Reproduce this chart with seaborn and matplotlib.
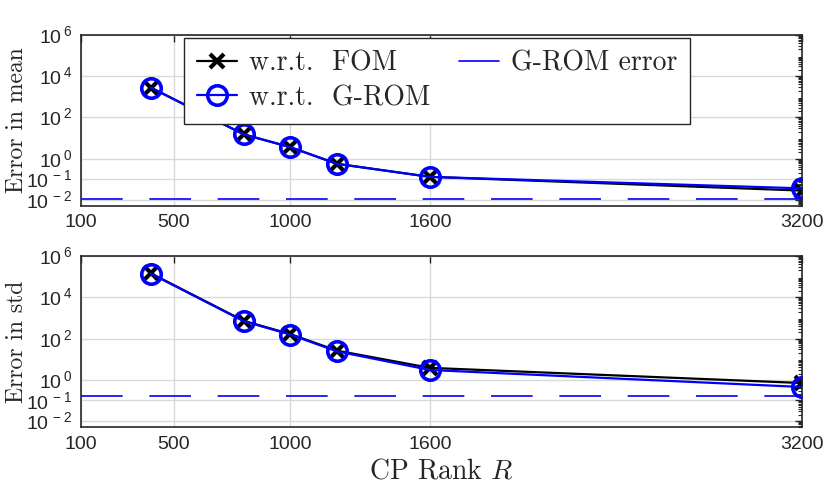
import numpy as np
import pandas as pd
import seaborn as sns
import matplotlib
matplotlib.use("Agg")
import matplotlib.pyplot as plt
from matplotlib.lines import Line2D
from matplotlib.ticker import LogLocator

# data
ranks = [400, 800, 1000, 1200, 1600, 3200]
mean_fom = [2.8e3, 15, 3.6, 0.56, 0.13, 0.028]
mean_grom = [2.8e3, 15, 3.6, 0.56, 0.13, 0.036]
std_fom = [1.45e5, 720, 165, 26, 3.8, 0.70]
std_grom = [1.40e5, 690, 155, 24, 3.0, 0.45]
grom_err_mean = 1.05e-2
grom_err_std = 0.17

xticks = [100, 500, 1000, 1600, 3200]
yticks = [1e-2, 1e-1, 1e0, 1e2, 1e4, 1e6]
ytick_labels = [r'$10^{\,-2}$', r'$10^{\,-1}$', r'$10^{\,0}$', r'$10^{\,2}$', r'$10^{\,4}$', r'$10^{\,6}$']

sns.set_style("white")
plt.rcParams['font.family'] = ['Liberation Sans', 'DejaVu Sans']
plt.rcParams['mathtext.fontset'] = 'custom'
plt.rcParams['mathtext.rm'] = 'Liberation Sans'
plt.rcParams['mathtext.it'] = 'cmmi10'
plt.rcParams['axes.unicode_minus'] = False

serif = 'cmr10'

fig = plt.figure(figsize=(8.3, 4.97), dpi=100)
ax1 = fig.add_axes([0.0976, 0.5855, 0.8687, 0.344])
ax2 = fig.add_axes([0.0976, 0.1402, 0.8687, 0.3447])

panels = [
    (ax1, mean_fom, mean_grom, grom_err_mean, 'Error in mean'),
    (ax2, std_fom, std_grom, grom_err_std, 'Error in std'),
]

for ax, fom, grom, err, ylab in panels:
    df = pd.DataFrame({'R': ranks, 'fom': fom, 'grom': grom})
    ax.set_yscale('log')
    sns.lineplot(data=df, x='R', y='fom', ax=ax, color='black', lw=1.6,
                 marker='x', markersize=10, markeredgewidth=3, markeredgecolor='black')
    sns.lineplot(data=df, x='R', y='grom', ax=ax, color='blue', lw=1.6,
                 marker='o', markersize=14, markeredgewidth=2.6,
                 markerfacecolor='none', markeredgecolor='blue')
    ln = ax.axhline(err, color='blue', lw=1.2)
    ln.set_dashes((25, 16))
    ax.set_xlim(100, 3200)
    ax.set_ylim(5e-3, 1e6)
    ax.set_xticks(xticks)
    ax.set_xticklabels([str(t) for t in xticks])
    ax.set_yticks(yticks)
    ax.set_yticklabels(ytick_labels)
    ax.yaxis.set_minor_locator(LogLocator(base=10, subs=np.arange(2, 10), numticks=100))
    ax.grid(True, which='major', color='#d9d9d9', lw=1)
    ax.tick_params(which='both', direction='in', top=True, right=True, labelsize=14, color='#262626')
    ax.tick_params(which='major', length=5, width=1, pad=6)
    ax.tick_params(which='minor', length=3, width=0.8)
    ax.tick_params(axis='x', which='minor', bottom=False, top=False)
    for s in ax.spines.values():
        s.set_color('#262626')
        s.set_linewidth(1.2)
    ax.set_xlabel('')
    ax.set_ylabel(ylab, family=serif, fontsize=17)
    ax.yaxis.set_label_coords(-0.073, 0.5)

ax2.set_xlabel(r'CP Rank $R$', family=serif, fontsize=20, labelpad=4)

handles = [
    Line2D([], [], color='black', lw=1.6, marker='x', markersize=10, markeredgewidth=3),
    Line2D([], [], color='blue', lw=1.6, marker='o', markersize=14, markeredgewidth=2.6,
           markerfacecolor='none'),
    Line2D([], [], color='blue', lw=1.2),
]
labels = ['w.r.t.  FOM', 'w.r.t.  G-ROM', 'G-ROM error']
leg = ax1.legend(handles, labels, loc='upper left', bbox_to_anchor=(0.143, 0.985),
                 ncol=2, prop={'family': serif, 'size': 20}, frameon=True,
                 fancybox=False, framealpha=1, edgecolor='#262626',
                 handlelength=1.45, columnspacing=1.0, handletextpad=0.45,
                 borderpad=0.45, labelspacing=0.3, borderaxespad=0)
leg.get_frame().set_linewidth(1.0)

fig.savefig('out.png', dpi=100)
